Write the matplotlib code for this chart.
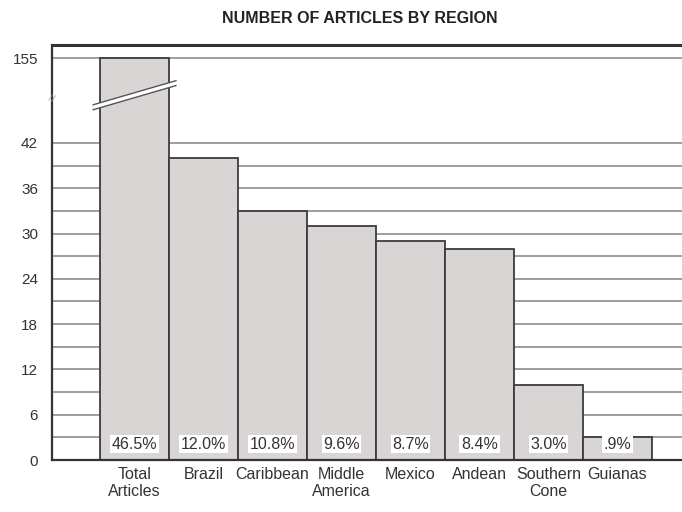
import numpy as np
import matplotlib
matplotlib.use("Agg")
import matplotlib.pyplot as plt
from matplotlib.patches import Polygon

# data
regions = ["Total\nArticles", "Brazil", "Caribbean", "Middle\nAmerica",
           "Mexico", "Andean", "Southern\nCone", "Guianas"]
articles = [155, 40, 33, 31, 29, 28, 10, 3]
percents = ["46.5%", "12.0%", "10.8%", "9.6%", "8.7%", "8.4%", "3.0%", ".9%"]
yticks = [0, 6, 12, 18, 24, 30, 36, 42, 155]

# broken axis: linear up to 42, compressed above
brk = 42.0
k = 0.0996

def fwd(y):
    y = np.asarray(y, dtype=float)
    return np.where(y <= brk, y, brk + (y - brk) * k)

def inv(y):
    y = np.asarray(y, dtype=float)
    return np.where(y <= brk, y, brk + (y - brk) / k)

fig = plt.figure(figsize=(6.82, 5.12), dpi=100)
ax = fig.add_axes([52 / 682, (512 - 460) / 512, 1 - 52 / 682, (460 - 45) / 512])
ax.set_yscale("function", functions=(fwd, inv))
ax.set_ylim(0, inv(54.98))
ax.set_xlim(-1.196, -1.196 + 630 / 69)

# grid lines every 3 up to 42, plus the top one
for g in list(range(3, 43, 3)) + [155]:
    ax.axhline(g, color="#969696", lw=1.3, zorder=1)

x = np.arange(len(regions))
ax.bar(x, articles, width=1.0, color="#d9d5d5", edgecolor="#3c3c3c",
       linewidth=1.3, zorder=2)

# percent boxes at the foot of each bar
for xi, p in zip(x, percents):
    ax.text(xi, 2.1, p, ha="center", va="center", fontsize=11.5, color="#333333",
            family="Liberation Sans", zorder=4,
            bbox=dict(boxstyle="square,pad=0.1", fc="white", ec="none"))

# break marks on the Total bar
x0, x1 = -0.6, 0.6
ya0, ya1 = inv(brk + 5.06), inv(brk + 8.25)
yb0, yb1 = inv(brk + 4.4), inv(brk + 7.6)
ax.add_patch(Polygon([(x0, ya0), (x1, ya1), (x1, yb1), (x0, yb0)], closed=True,
                     fc="white", ec="none", zorder=3))
ax.plot([x0, x1], [ya0, ya1], color="#555555", lw=1.0, zorder=3)
ax.plot([x0, x1], [yb0, yb1], color="#555555", lw=1.0, zorder=3)
ax.text(-1.2, inv(brk + 6.0), "//", ha="center", va="center", fontsize=6,
        color="#999999", rotation=-20)

ax.set_yticks(yticks)
ax.set_yticklabels([str(t) for t in yticks], fontsize=11, color="#333333",
                   family="Liberation Sans")
ax.set_xticks(x)
ax.set_xticklabels(regions, fontsize=11.5, color="#333333",
                   family="Liberation Sans", linespacing=1.2)
ax.tick_params(length=0, pad=10)
ax.tick_params(axis="x", pad=5)
ax.minorticks_off()

for s in ["left", "bottom"]:
    ax.spines[s].set_linewidth(1.6)
    ax.spines[s].set_color("#333333")
ax.spines["top"].set_linewidth(2.2)
ax.spines["top"].set_color("#333333")
ax.spines["right"].set_visible(False)

fig.text(0.528, 0.963, "NUMBER OF ARTICLES BY REGION", ha="center", va="center",
         fontsize=11.5, fontweight="bold", color="#222222", family="Liberation Sans")

fig.savefig("out.png", dpi=100)
